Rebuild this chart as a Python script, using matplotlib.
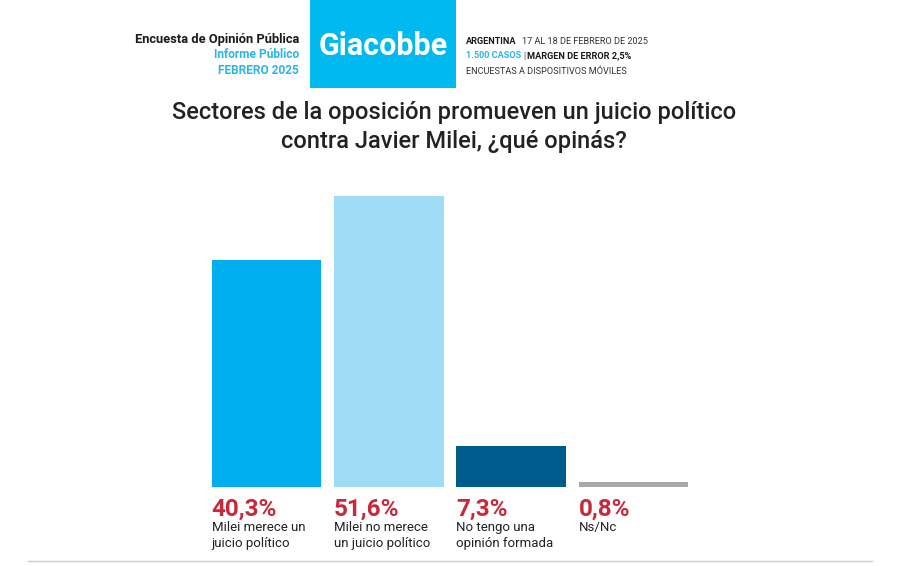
import matplotlib.pyplot as plt
from matplotlib.patches import Rectangle

# datos
valores = [40.3, 51.6, 7.3, 0.8]
etiquetas_pct = ['40,3%', '51,6%', '7,3%', '0,8%']
categorias = ['Milei merece un\njuicio político',
              'Milei no merece\nun juicio político',
              'No tengo una\nopinión formada',
              'Ns/Nc']
colores = ['#00AEEF', '#9FDCF5', '#005B8D', '#A7A9AC']

titulo = 'Sectores de la oposición promueven un juicio político\ncontra Javier Milei, ¿qué opinás?'

plt.rcParams['font.family'] = ['Roboto', 'DejaVu Sans']

W, H = 900, 566
fig = plt.figure(figsize=(9, 5.66), dpi=100)
fig.patch.set_facecolor('white')


def px(x, y):
    return x / W, 1 - y / H


def seguir(prev, texto, sep=4, **kw):
    # texto a continuacion de otro texto en la misma linea
    return fig.text(0, 0, '', alpha=0) if False else plt.annotate(
        texto, xy=(1, 0.5), xycoords=prev, xytext=(sep, 0), textcoords='offset pixels',
        ha='left', va='center', **kw)


# cabecera: caja Giacobbe
fig.patches.append(Rectangle(px(310, 88), 146 / W, 88 / H, transform=fig.transFigure,
                             facecolor='#00B9EE', edgecolor='none'))
fig.text(*px(383, 46), 'Giacobbe', color='white', fontsize=22, fontweight='bold',
         ha='center', va='center')

# texto izquierdo
fig.text(*px(299, 39), 'Encuesta de Opinión Pública', fontsize=9.3, fontweight='bold',
         color='#1a1a1a', ha='right', va='center')
fig.text(*px(299, 55), 'Informe Público', fontsize=8.6, fontweight='bold',
         color='#2BB5E8', ha='right', va='center')
fig.text(*px(299, 70), 'FEBRERO 2025', fontsize=8.6, fontweight='bold',
         color='#2BB5E8', ha='right', va='center')

# titulo
fig.text(*px(454, 127), titulo, fontsize=17, fontweight='medium', color='#222222',
         ha='center', va='center', linespacing=1.35)

# barras
ax = fig.add_axes([200 / W, 1 - 487 / H, 500 / W, 300 / H])
x = list(range(len(valores)))
ax.bar(x, valores, width=0.895, color=colores)
ax.set_xlim(-0.544, 3.544)
ax.set_ylim(0, 53.2)
ax.axis('off')

# texto derecho
fs = 6.6
t1 = fig.text(*px(466, 41), 'ARGENTINA', fontsize=fs, fontweight='bold',
              color='#1a1a1a', ha='left', va='center')
seguir(t1, '17 AL 18 DE FEBRERO DE 2025', sep=5, fontsize=fs, color='#333333')
t2 = fig.text(*px(466, 56), '1.500 CASOS', fontsize=fs, fontweight='bold',
              color='#2BB5E8', ha='left', va='center')
t3 = seguir(t2, '|', sep=2, fontsize=fs, color='#333333')
seguir(t3, 'MARGEN DE ERROR 2,5%', sep=2, fontsize=fs, fontweight='bold', color='#1a1a1a')
fig.text(*px(466, 71), 'ENCUESTAS A DISPOSITIVOS MÓVILES', fontsize=fs,
         color='#333333', ha='left', va='center')

# etiquetas debajo de las barras
for i in x:
    izq = i - 0.895 / 2
    ax.annotate(etiquetas_pct[i], (izq, 0), xytext=(0, -11), textcoords='offset pixels',
                fontsize=17.5, fontweight='bold', color='#C8283A', ha='left', va='top',
                annotation_clip=False)
    ax.annotate(categorias[i], (izq, 0), xytext=(0, -34), textcoords='offset pixels',
                fontsize=9.5, color='#222222', ha='left', va='top', linespacing=1.25,
                annotation_clip=False)

# linea inferior
fig.add_artist(plt.Line2D([28 / W, 872 / W], [1 - 561 / H] * 2,
                          transform=fig.transFigure, color='#cccccc', lw=1))

fig.savefig('out.png', dpi=100, facecolor='white')
